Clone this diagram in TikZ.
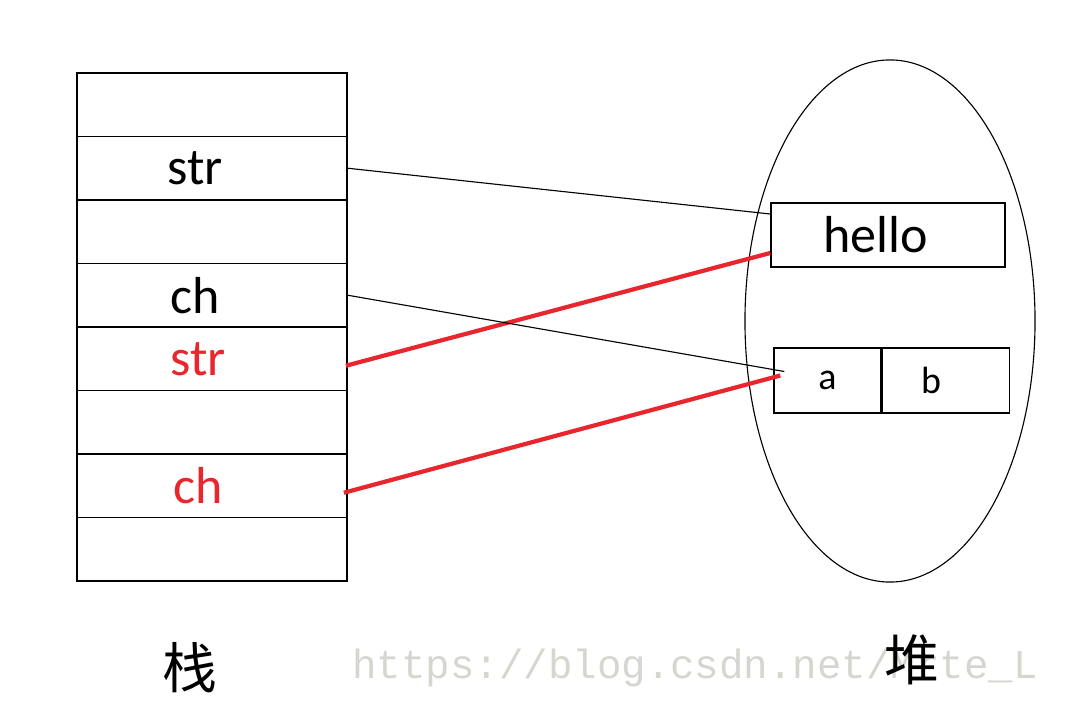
\documentclass[tikz,border=0pt]{standalone}
\usepackage{fontspec}
\setmainfont{Carlito}
\newfontfamily\cjkfont{Noto Sans CJK SC}
\newfontfamily\markfont{Liberation Mono}
\usetikzlibrary{shapes.geometric,positioning,calc}
\definecolor{linkred}{RGB}{232,38,46}
\definecolor{markgray}{RGB}{214,214,208}

\begin{document}
\begin{tikzpicture}[x=0.025cm,y=-0.025cm,
    cell/.style={draw,line width=1.2pt,minimum width=6.75cm,minimum height=1.5875cm,inner sep=0pt},
    word/.style={font=\fontsize{37}{40}\selectfont},
    redword/.style={word,text=linkred},
    objbox/.style={draw,line width=1pt,minimum height=1.6cm,inner sep=0pt},
    small/.style={font=\fontsize{27}{30}\selectfont},
    cjk/.style={font=\cjkfont\fontsize{39}{40}\selectfont},
    ref/.style={line width=0.8pt},
    redref/.style={draw=linkred,line width=3pt}]
    \useasboundingbox (0,0) rectangle (1072,720);

    % Stack cells
    \foreach \i in {1,...,8} {
        \node[cell] (cell\i) at (212,{73+63.5*(\i-0.5)}) {};
    }
    \node[word] (str1) at ($(cell2)+(-17,0)$) {str};
    \node[word] (ch1) at ($(cell4)+(-17,0)$) {ch};
    \node[redword] (str2) at ($(cell5)+(-14,0)$) {str};
    \node[redword] (ch2) at ($(cell7)+(-14,0)$) {ch};

    % Heap
    \node[draw,ellipse,line width=0.8pt,minimum width=7.25cm,minimum height=13.05cm,inner sep=0pt] (heap) at (890,321) {};
    \node[objbox,word,minimum width=5.85cm] (hello) at (888,235) {hello\kern18pt};
    \node[objbox,small,minimum width=2.675cm,minimum height=1.625cm] (cha) at (827.5,380.5) {a};
    \node[objbox,small,minimum width=3.175cm,minimum height=1.625cm,right=0pt of cha] (chb) {b\kern21pt};

    % References
    \draw[ref] (cell2.east) -- ($(hello.west)+(0,-21)$);
    \draw[redref] ($(cell5.east)+(-2,7)$) -- ($(hello.west)+(0,18)$);
    \draw[ref] (cell4.east) -- ($(cha.west)+(11,-9)$);
    \draw[redref] ($(cell7.east)+(-4,7)$) -- ($(cha.west)+(7,-5)$);

    % Labels
    \node[cjk] (stacklbl) at (190,668) {栈};
    \node[font=\markfont\fontsize{29}{30}\selectfont,text=markgray] (mark) at (695,668) {https://blog.csdn.net/Mrte\_L};
    \node[cjk] (heaplbl) at (912,660) {堆};
\end{tikzpicture}
\end{document}
